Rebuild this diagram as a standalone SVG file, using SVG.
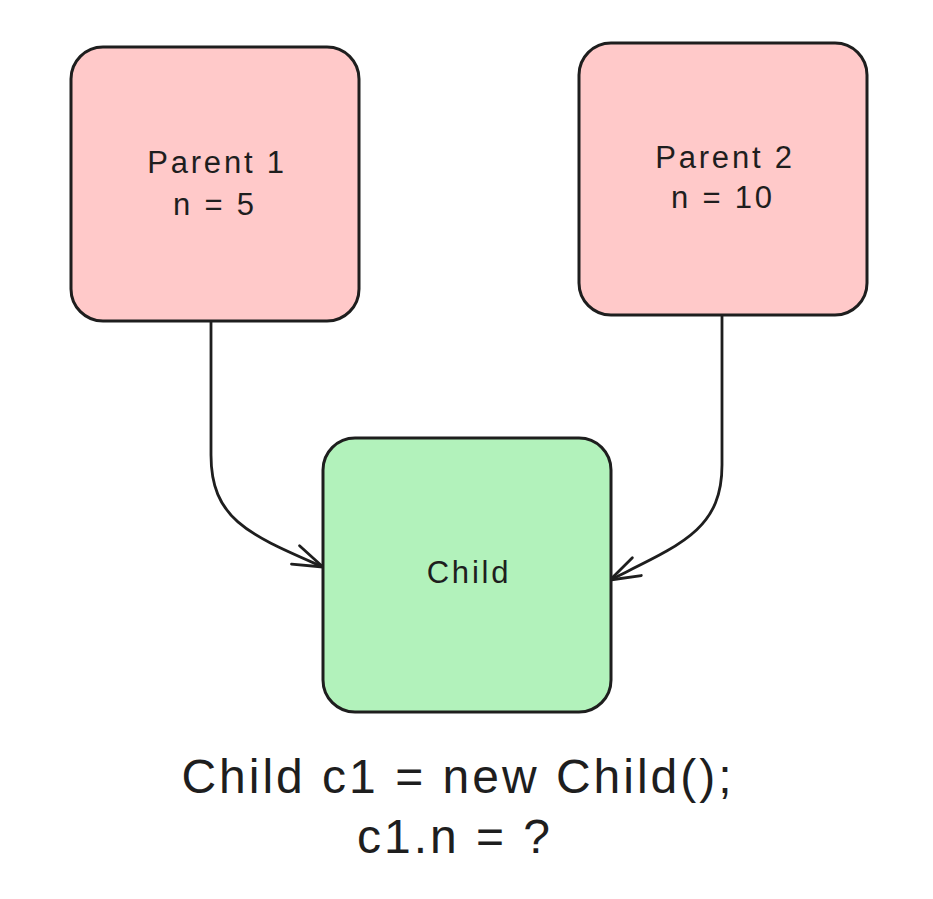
<svg xmlns="http://www.w3.org/2000/svg" width="933" height="899" viewBox="0 0 933 899">
  <style>
    .box { stroke: #1e1e1e; stroke-width: 3; }
    .parent { fill: #ffc9c9; }
    .child { fill: #b2f2bb; }
    .lbl { font-family: "Liberation Sans", Arial, sans-serif; font-size: 31px; fill: #1e1e1e; text-anchor: middle; letter-spacing: 2.8px; }
    .code { font-family: "Liberation Sans", Arial, sans-serif; font-size: 48px; fill: #1e1e1e; text-anchor: middle; letter-spacing: 3px; }
    .conn { fill: none; stroke: #1e1e1e; stroke-width: 2.8; stroke-linecap: round; stroke-linejoin: round; }
  </style>
  <defs>
    <marker id="arrow" markerUnits="userSpaceOnUse" viewBox="-36 -16 40 32" markerWidth="40" markerHeight="32" refX="0" refY="0" orient="auto" overflow="visible">
      <path d="M-30,-10 L0,0 L-30,10" fill="none" stroke="#1e1e1e" stroke-width="2.8" stroke-linecap="round" stroke-linejoin="round"/>
    </marker>
  </defs>
  <rect width="933" height="899" fill="#ffffff"/>

  <g id="connectors">
    <path class="conn" d="M211,321 L211,455 C211,520 250,535 323,567" marker-end="url(#arrow)"/>
    <path class="conn" d="M722,315 L722,465 C722,530 680,545 610,580" marker-end="url(#arrow)"/>
  </g>

  <g id="parent1">
    <rect class="box parent" x="71" y="47" width="288" height="274" rx="32" ry="32"/>
    <text class="lbl" x="217" y="173">Parent 1</text>
    <text class="lbl" x="215" y="215">n = 5</text>
  </g>

  <g id="parent2">
    <rect class="box parent" x="579" y="43" width="288" height="272" rx="32" ry="32"/>
    <text class="lbl" x="725" y="168">Parent 2</text>
    <text class="lbl" x="723" y="208">n = 10</text>
  </g>

  <g id="child">
    <rect class="box child" x="323" y="438" width="288" height="274" rx="32" ry="32"/>
    <text class="lbl" x="469" y="583">Child</text>
  </g>

  <g id="code">
    <text class="code" x="458" y="793">Child c1 = new Child();</text>
    <text class="code" x="455" y="853">c1.n = ?</text>
  </g>
</svg>
